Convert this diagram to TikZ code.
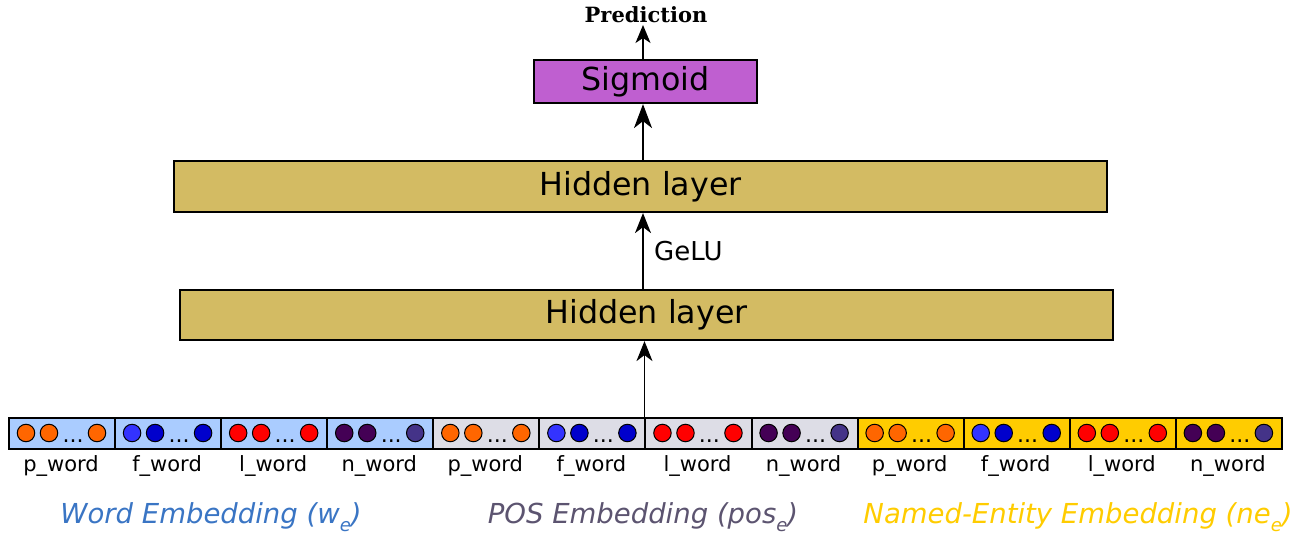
\documentclass[tikz,border=0pt]{standalone}
\usepackage{fontspec}
\setmainfont{DejaVu Sans}
\newfontfamily\predfont{DejaVu Serif}
\usetikzlibrary{arrows.meta}
\definecolor{wordfill}{HTML}{AACCFF}
\definecolor{posfill}{HTML}{DDDDE6}
\definecolor{nefill}{HTML}{FFCC00}
\definecolor{hidfill}{HTML}{D3BB63}
\definecolor{sigfill}{HTML}{BF5FD0}
\definecolor{porange}{HTML}{FF6600}
\definecolor{fblueA}{HTML}{3333FF}
\definecolor{fblueB}{HTML}{0000CC}
\definecolor{lred}{HTML}{FF0000}
\definecolor{npurA}{HTML}{440055}
\definecolor{npurB}{HTML}{443388}
\definecolor{wordtxt}{HTML}{3A75C4}
\definecolor{postxt}{HTML}{5C5470}
\definecolor{netxt}{HTML}{FFCC00}
\newcommand{\fsz}[1]{\fontsize{#1}{#1}\selectfont}
\tikzset{
  x=1pt, y=-1pt,
  layerbox/.style={draw=black, line width=2.2pt, fill=hidfill, inner sep=0pt, font=\fsz{31.7}},
  sigbox/.style={draw=black, line width=2.2pt, fill=sigfill, inner sep=0pt, font=\fsz{31.7}},
  cellbox/.style={draw=black, line width=2pt, inner sep=0pt, minimum width=106.08pt, minimum height=31pt},
  dot/.style={circle, draw=black, line width=1pt, minimum size=17.5pt, inner sep=0pt},
  cdots/.style={inner sep=0pt, anchor=base, font=\fsz{22}},
  celllab/.style={inner sep=0pt, anchor=base, font=\fsz{21}},
  title/.style={inner sep=0pt, anchor=base, font=\fsz{27.5}\itshape},
  arr/.style={line width=1.6pt, -{Stealth[length=20pt, width=16pt, inset=6pt]}},
}
\newcommand{\sube}{\raisebox{-0.3em}{\fsz{18}e}}
\begin{document}
\begin{tikzpicture}
\useasboundingbox (0,0) rectangle (1309,535);
\node[sigbox, minimum width=223pt, minimum height=43pt] (sig) at (645.5,81.5) {Sigmoid};
\node[inner sep=0pt, anchor=base, font=\fsz{21}\predfont\bfseries] (pred) at (646,23) {Prediction};
\node[layerbox, minimum width=933pt, minimum height=51pt] (h2) at (640.5,186.5) {Hidden layer};
\node[layerbox, minimum width=933pt, minimum height=50pt] (h1) at (646.5,315) {Hidden layer};
\foreach \g/\fl in {0/wordfill,1/posfill,2/nefill}{
  \foreach \k/\lab/\ca/\cb/\cc in {0/p\_word/porange/porange/porange,1/f\_word/fblueA/fblueB/fblueB,2/l\_word/lred/lred/lred,3/n\_word/npurA/npurA/npurB}{
    \pgfmathsetmacro\L{8+(4*\g+\k)*106.08}
    \node[cellbox, fill=\fl, anchor=north west] (c\g\k) at (\L,417) {};
    \node[dot, fill=\ca] (d\g\k a) at (\L+18,433) {};
    \node[dot, fill=\cb] (d\g\k b) at (\L+41,433) {};
    \node[cdots] (e\g\k) at (\L+65,442) {...};
    \node[dot, fill=\cc] (d\g\k c) at (\L+89,433) {};
    \node[celllab] (t\g\k) at (\L+53,471) {\lab};
  }
}
\node[title, text=wordtxt] (tw) at (211,523) {Word Embedding (w\sube)};
\node[title, text=postxt] (tp) at (643,523) {POS Embedding (pos\sube)};
\node[title, text=netxt] (tn) at (1078,523) {Named-Entity Embedding (ne\sube)};
\draw[arr] (c12.north west) -- (c12.north west |- h1.south);
\draw[arr] (h1.north -| 643,0) -- (h2.south -| 643,0);
\node[inner sep=0pt, anchor=base west, font=\fsz{26}] (gelu) at (654,260) {GeLU};
\draw[arr, -{Stealth[length=24pt, width=18pt, inset=7pt]}] (h2.north -| 643,0) -- (sig.south -| 643,0);
\draw[arr, -{Stealth[length=18pt, width=15pt, inset=5pt]}] (sig.north -| 643,0) -- (643,25);
\end{tikzpicture}
\end{document}
